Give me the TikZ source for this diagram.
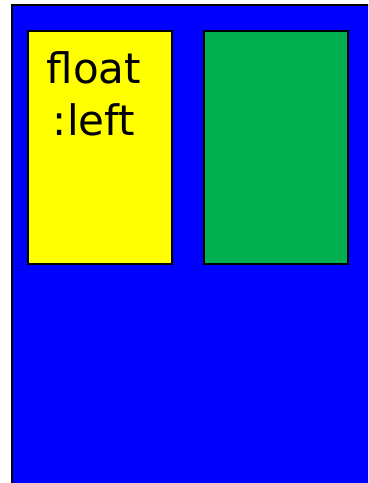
\documentclass[tikz,border=0pt]{standalone}
\usepackage{fontspec}
\setmainfont{DejaVu Sans}
\definecolor{floatblue}{RGB}{0,0,255}
\definecolor{floatyellow}{RGB}{255,255,0}
\definecolor{floatgreen}{RGB}{0,176,80}

\begin{document}
\begin{tikzpicture}[
    x=1pt, y=-1pt,
    panel/.style={draw=black, line width=2pt},
    label/.style={font=\fontsize{42}{52}\selectfont, align=center, inner sep=0pt}
]
    \useasboundingbox (0,0) rectangle (368,483);
    \begin{scope}
        \clip (0,0) rectangle (368,483);
        \draw[panel, fill=floatblue] (12,5) rectangle (390,510);
    \end{scope}
    \draw[panel, fill=floatyellow] (28,31) rectangle (172,264);
    \draw[panel, fill=floatgreen] (204,31) rectangle (348,264);
    \node[label, anchor=base] (floattext) at (94,135) {float\\:left};
\end{tikzpicture}
\end{document}
